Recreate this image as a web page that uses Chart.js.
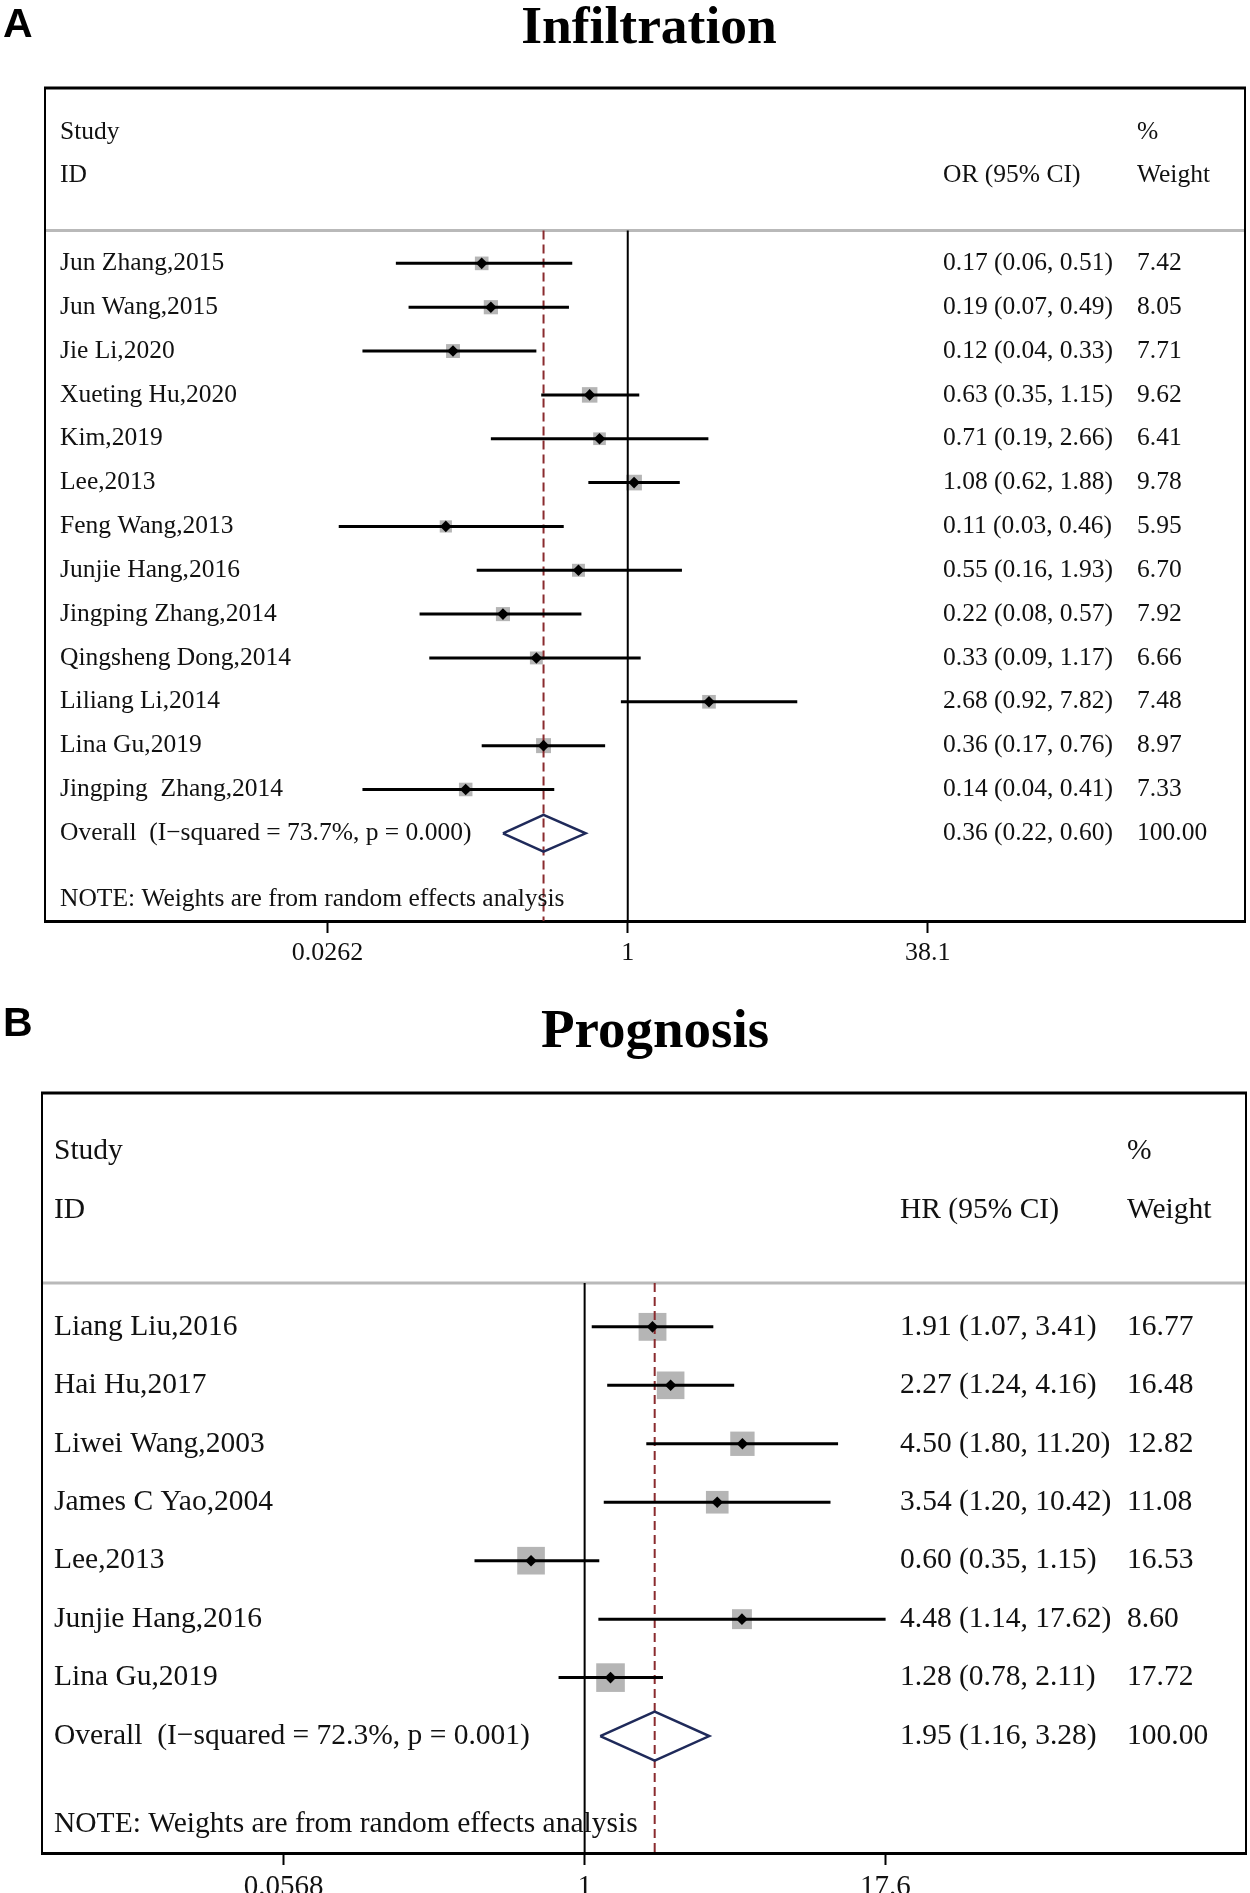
<!DOCTYPE html>
<html>
<head>
<meta charset="utf-8">
<title>Infiltration / Prognosis forest plots</title>
<script src="https://cdn.jsdelivr.net/npm/chart.js@4.4.1/dist/chart.umd.min.js"></script>
<style>
  html, body { margin: 0; padding: 0; background: #fff; }
  body { width: 1250px; height: 1893px; position: relative; overflow: hidden; }
  canvas { position: absolute; left: 0; }
  #chartA { top: 0; }
  #chartB { top: 966px; }
</style>
</head>
<body>
<canvas id="chartA" width="1250" height="966"></canvas>
<canvas id="chartB" width="1250" height="927"></canvas>
<script>
// Panel A - infiltration (OR)
const studiesA = [
  "Jun Zhang,2015", "Jun Wang,2015", "Jie Li,2020", "Xueting Hu,2020", "Kim,2019",
  "Lee,2013", "Feng Wang,2013", "Junjie Hang,2016", "Jingping Zhang,2014",
  "Qingsheng Dong,2014", "Liliang Li,2014", "Lina Gu,2019", "Jingping  Zhang,2014"
];
const orA = [0.17, 0.19, 0.12, 0.63, 0.71, 1.08, 0.11, 0.55, 0.22, 0.33, 2.68, 0.36, 0.14];
const lowerA = [0.06, 0.07, 0.04, 0.35, 0.19, 0.62, 0.03, 0.16, 0.08, 0.09, 0.92, 0.17, 0.04];
const upperA = [0.51, 0.49, 0.33, 1.15, 2.66, 1.88, 0.46, 1.93, 0.57, 1.17, 7.82, 0.76, 0.41];
const weightA = [7.42, 8.05, 7.71, 9.62, 6.41, 9.78, 5.95, 6.70, 7.92, 6.66, 7.48, 8.97, 7.33];
const overallA = [0.36, 0.22, 0.60]; // estimate, lower, upper
const overallLabelA = "Overall  (I\u2212squared = 73.7%, p = 0.000)";
const tickValsA = [0.0262, 1, 38.1];
const tickLabelsA = ["0.0262", "1", "38.1"];

// Panel B - prognosis (HR)
const studiesB = [
  "Liang Liu,2016", "Hai Hu,2017", "Liwei Wang,2003", "James C Yao,2004",
  "Lee,2013", "Junjie Hang,2016", "Lina Gu,2019"
];
const hrB = [1.91, 2.27, 4.50, 3.54, 0.60, 4.48, 1.28];
const lowerB = [1.07, 1.24, 1.80, 1.20, 0.35, 1.14, 0.78];
const upperB = [3.41, 4.16, 11.20, 10.42, 1.15, 17.62, 2.11];
const weightB = [16.77, 16.48, 12.82, 11.08, 16.53, 8.60, 17.72];
const overallB = [1.95, 1.16, 3.28];
const overallLabelB = "Overall  (I\u2212squared = 72.3%, p = 0.001)";
const tickValsB = [0.0568, 1, 17.6];
const tickLabelsB = ["0.0568", "1", "17.6"];

const serif = "'Liberation Serif', 'Times New Roman', serif";
const fmt = v => v.toFixed(2);

// Draws the frame, header rule, titles and the text columns
const forestText = {
  id: "forestText",
  beforeDatasetsDraw(chart, args, o) {
    const { ctx, chartArea: a, scales: { y } } = chart;
    const gy = y.getPixelForValue(-0.75);
    ctx.save();
    ctx.strokeStyle = "#b9b9b9";
    ctx.lineWidth = 3;
    ctx.beginPath();
    ctx.moveTo(a.left, gy);
    ctx.lineTo(a.right, gy);
    ctx.stroke();
    ctx.restore();
  },
  afterDraw(chart, args, o) {
    const { ctx, chartArea: a, scales: { y } } = chart;
    ctx.save();

    // frame (bottom edge is the x axis border)
    ctx.strokeStyle = "#000";
    ctx.lineWidth = 2;
    ctx.beginPath();
    ctx.moveTo(a.left, a.bottom);
    ctx.lineTo(a.left, a.top);
    ctx.moveTo(a.right, a.top);
    ctx.lineTo(a.right, a.bottom);
    ctx.stroke();
    ctx.lineWidth = 3;
    ctx.beginPath();
    ctx.moveTo(a.left - 1, a.top);
    ctx.lineTo(a.right + 1, a.top);
    ctx.stroke();

    // panel letter and title
    ctx.fillStyle = "#000";
    ctx.textBaseline = "alphabetic";
    ctx.textAlign = "left";
    ctx.font = "bold 41px 'Liberation Sans', Arial, sans-serif";
    ctx.fillText(o.letter, 3, o.letterBase);
    ctx.textAlign = "center";
    ctx.font = "bold " + o.titleSize + "px " + serif;
    ctx.fillText(o.title, o.titleX, o.titleBase);

    // columns
    ctx.textAlign = "left";
    ctx.textBaseline = "middle";
    ctx.font = o.fontSize + "px " + serif;
    ctx.fillStyle = "#111";
    const row = v => y.getPixelForValue(v);
    ctx.fillText("Study", o.colStudy, row(-3));
    ctx.fillText("ID", o.colStudy, row(-2));
    ctx.fillText(o.effect, o.colCI, row(-2));
    ctx.fillText("%", o.colW, row(-3));
    ctx.fillText("Weight", o.colW, row(-2));

    o.studies.forEach((s, i) => {
      ctx.fillText(s, o.colStudy, row(i));
      ctx.fillText(fmt(o.est[i]) + " (" + fmt(o.lower[i]) + ", " + fmt(o.upper[i]) + ")", o.colCI, row(i));
      ctx.fillText(fmt(o.weights[i]), o.colW, row(i));
    });
    const n = o.studies.length;
    const [oe, ol, oh] = o.overall;
    ctx.fillText(o.overallLabel, o.colStudy, row(n));
    ctx.fillText(fmt(oe) + " (" + fmt(ol) + ", " + fmt(oh) + ")", o.colCI, row(n));
    ctx.fillText("100.00", o.colW, row(n));
    ctx.fillText("NOTE: Weights are from random effects analysis", o.colStudy, row(n + 1.5));
    ctx.restore();
  }
};

function forestChart(canvasId, p) {
  const n = p.studies.length;
  const [oe, ol, oh] = p.overall;
  const datasets = [];

  // grey boxes, area proportional to weight
  datasets.push({
    data: p.est.map((v, i) => ({ x: v, y: i })),
    pointStyle: "rect",
    pointRadius: p.weights.map(w => p.boxScale * Math.sqrt(w) / Math.SQRT2),
    backgroundColor: "#b5b5b5",
    borderWidth: 0,
    order: 6
  });
  // line of no effect
  datasets.push({
    data: [{ x: 1, y: -0.75 }, { x: 1, y: p.yMax }],
    showLine: true, pointRadius: 0, borderColor: "#000", borderWidth: 2, order: 5
  });
  // pooled estimate, dashed
  datasets.push({
    data: [{ x: oe, y: -0.75 }, { x: oe, y: p.yMax }],
    showLine: true, pointRadius: 0, borderColor: "#8a2b2e", borderWidth: 2,
    borderDash: [9, 5], order: 4
  });
  // confidence intervals
  p.lower.forEach((lo, i) => {
    datasets.push({
      data: [{ x: lo, y: i }, { x: p.upper[i], y: i }],
      showLine: true, pointRadius: 0, borderColor: "#000", borderWidth: 3,
      borderCapStyle: "butt", order: 3
    });
  });
  // point estimates
  datasets.push({
    data: p.est.map((v, i) => ({ x: v, y: i })),
    pointStyle: "rectRot", pointRadius: 5.8, backgroundColor: "#000",
    borderWidth: 0, order: 2
  });
  // pooled diamond
  datasets.push({
    data: [
      { x: ol, y: n }, { x: oe, y: n - 0.42 }, { x: oh, y: n },
      { x: oe, y: n + 0.42 }, { x: ol, y: n }
    ],
    showLine: true, pointRadius: 0, borderColor: "#1f2a5a", borderWidth: 2.5,
    borderJoinStyle: "miter", tension: 0, order: 1
  });

  return new Chart(document.getElementById(canvasId), {
    type: "scatter",
    data: { datasets },
    plugins: [forestText],
    options: {
      responsive: false,
      animation: false,
      events: [],
      layout: { padding: p.padding, autoPadding: false },
      scales: {
        x: {
          type: "logarithmic",
          min: p.xMin,
          max: p.xMax,
          bounds: "data",
          afterBuildTicks: axis => { axis.ticks = p.tickVals.map(v => ({ value: v })); },
          afterFit: axis => { axis.height = p.axisHeight; },
          ticks: {
            autoSkip: false,
            maxRotation: 0,
            padding: 5,
            color: "#111",
            font: { family: serif, size: p.tickSize },
            callback: (v, i) => p.tickLabels[i]
          },
          grid: {
            drawOnChartArea: false,
            drawTicks: true,
            tickLength: 12,
            tickColor: "#000",
            tickWidth: 2
          },
          border: { display: true, color: "#000", width: 3 }
        },
        y: { type: "linear", min: -4, max: p.yMax, reverse: true, display: false }
      },
      plugins: {
        legend: { display: false },
        tooltip: { enabled: false },
        forestText: {
          letter: p.letter, letterBase: p.letterBase,
          title: p.title, titleX: p.titleX, titleBase: p.titleBase, titleSize: p.titleSize,
          effect: p.effect, fontSize: p.fontSize,
          colStudy: p.colStudy, colCI: p.colCI, colW: p.colW,
          studies: p.studies, est: p.est, lower: p.lower, upper: p.upper,
          weights: p.weights, overall: p.overall, overallLabel: p.overallLabel
        }
      }
    }
  });
}

forestChart("chartA", {
  letter: "A", letterBase: 37, title: "Infiltration", titleX: 649, titleBase: 43, titleSize: 53.5,
  effect: "OR (95% CI)", fontSize: 25.5, tickSize: 26,
  studies: studiesA, est: orA, lower: lowerA, upper: upperA, weights: weightA,
  overall: overallA, overallLabel: overallLabelA,
  tickVals: tickValsA, tickLabels: tickLabelsA,
  xMin: 0.00085, xMax: 1788, yMax: 15, boxScale: 5,
  padding: { left: 45, right: 5, top: 88, bottom: 0 }, axisHeight: 45,
  colStudy: 60, colCI: 943, colW: 1137
});

forestChart("chartB", {
  letter: "B", letterBase: 70, title: "Prognosis", titleX: 655, titleBase: 81, titleSize: 55,
  effect: "HR (95% CI)", fontSize: 29.5, tickSize: 29,
  studies: studiesB, est: hrB, lower: lowerB, upper: upperB, weights: weightB,
  overall: overallB, overallLabel: overallLabelB,
  tickVals: tickValsB, tickLabels: tickLabelsB,
  xMin: 0.00567, xMax: 547, yMax: 9, boxScale: 6.8,
  padding: { left: 42, right: 4, top: 127, bottom: 0 }, axisHeight: 40,
  colStudy: 54, colCI: 900, colW: 1127
});
</script>
</body>
</html>
